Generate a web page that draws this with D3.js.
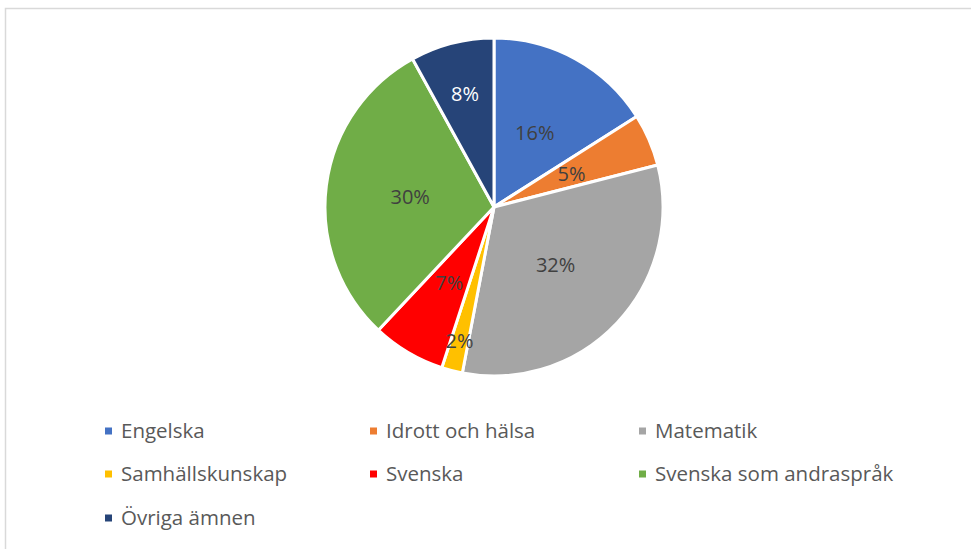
<!DOCTYPE html>
<html>
<head>
<meta charset="utf-8">
<script src="https://cdn.jsdelivr.net/npm/d3@7"></script>
<style>
  html, body { margin: 0; padding: 0; background: #fff; }
  svg { display: block; }
</style>
</head>
<body>
<svg id="chart" width="971" height="549"></svg>
<script>
const categories = ["Engelska", "Idrott och hälsa", "Matematik", "Samhällskunskap", "Svenska", "Svenska som andraspråk", "Övriga ämnen"];
const values = [16, 5, 32, 2, 7, 30, 8];
const labels = ["16%", "5%", "32%", "2%", "7%", "30%", "8%"];
const colors = ["#4472C4", "#ED7D31", "#A5A5A5", "#FFC000", "#FF0000", "#70AD47", "#264478"];
const labelColors = ["#404040", "#404040", "#404040", "#404040", "#404040", "#404040", "#ffffff"];
const labelRadiusFactor = [0.5, 0.5, 0.5, 0.82, 0.52, 0.5, 0.69];

const svg = d3.select("#chart");
const font = "'Open Sans', sans-serif";

// chart border
svg.append("path")
  .attr("d", "M5.5,549 L5.5,8.5 L971,8.5")
  .attr("fill", "none")
  .attr("stroke", "#d9d9d9")
  .attr("stroke-width", 1.5);

const cx = 494, cy = 207, r = 169;
const pie = d3.pie().sort(null).value(d => d)(values);
const arc = d3.arc().innerRadius(0).outerRadius(r);

const g = svg.append("g").attr("transform", `translate(${cx},${cy})`);
g.selectAll("path.slice")
  .data(pie)
  .join("path")
  .attr("class", "slice")
  .attr("d", arc)
  .attr("fill", (d, i) => colors[i])
  .attr("stroke", "#fff")
  .attr("stroke-width", 3)
  .attr("stroke-linejoin", "round");

g.selectAll("text.lbl")
  .data(pie)
  .join("text")
  .attr("class", "lbl")
  .attr("transform", (d, i) => {
    const a = (d.startAngle + d.endAngle) / 2;
    const rr = r * labelRadiusFactor[i];
    return `translate(${rr * Math.sin(a)},${-rr * Math.cos(a)})`;
  })
  .attr("text-anchor", "middle")
  .attr("dy", "0.36em")
  .attr("font-family", font)
  .attr("font-size", 20)
  .attr("fill", (d, i) => labelColors[i])
  .text((d, i) => labels[i]);

// legend
const colX = [105, 370, 639];
const rowY = [431, 474, 518];
const leg = svg.append("g");
categories.forEach((c, i) => {
  const x = colX[i % 3], y = rowY[Math.floor(i / 3)];
  leg.append("rect")
    .attr("x", x).attr("y", y - 3.5)
    .attr("width", 7).attr("height", 7)
    .attr("fill", colors[i]);
  leg.append("text")
    .attr("x", x + 16).attr("y", y)
    .attr("dy", "0.36em")
    .attr("font-family", font)
    .attr("font-size", 20.5)
    .attr("fill", "#595959")
    .text(c);
});
</script>
</body>
</html>
